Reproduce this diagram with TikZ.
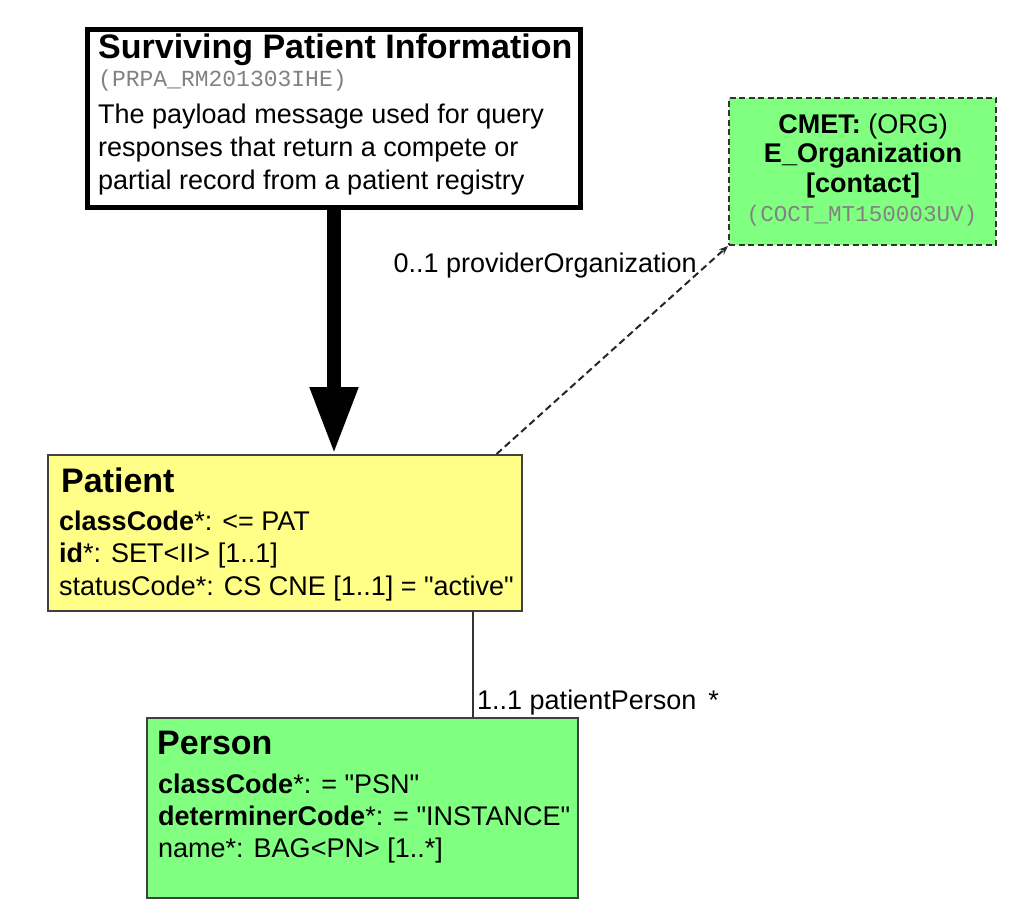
\documentclass[tikz,border=0pt]{standalone}
\usepackage{fontspec}
\setmainfont[Ligatures=TeXOff]{Liberation Sans}
\setmonofont{Liberation Mono}
\usetikzlibrary{arrows.meta}
\definecolor{entitygreen}{RGB}{128,255,128}
\definecolor{roleyellow}{RGB}{255,255,136}
\definecolor{codegray}{RGB}{130,130,130}
\begin{document}
\begin{tikzpicture}[x=1pt, y=-1pt,
    entry/.style={rectangle, draw=black, line width=5pt, fill=white, anchor=north west, inner sep=0pt},
    role/.style={rectangle, draw=black!75, line width=1.6pt, fill=roleyellow, anchor=north west, inner sep=0pt},
    entity/.style={rectangle, draw=black!75, line width=1.6pt, fill=entitygreen, anchor=north west, inner sep=0pt},
    cmet/.style={rectangle, draw=black!80, line width=2pt, dash pattern=on 6pt off 3.5pt, fill=entitygreen, anchor=north west, inner sep=0pt},
    clstitle/.style={anchor=base west, inner sep=0pt, font=\fontsize{34}{40}\selectfont\bfseries},
    idcode/.style={inner sep=0pt, font=\fontsize{23}{28}\selectfont\ttfamily, text=codegray},
    attrs/.style={anchor=north west, inner sep=0pt, align=left, font=\fontsize{27}{32.5}\selectfont},
    assoclabel/.style={inner sep=0pt, font=\fontsize{27}{32}\selectfont},
  ]
  \useasboundingbox (0,0) rectangle (1036,912);

  % Boxes
  \node[entry, minimum width=493, minimum height=177.5] (surv) at (85,27.5) {};
  \node[cmet, minimum width=267, minimum height=147] (orgcmet) at (728,97) {};
  \node[role, minimum width=474, minimum height=156] (patient) at (47,454) {};
  \node[entity, minimum width=431, minimum height=180] (person) at (146,717) {};

  % Texts
  \node[clstitle] (survname) at (98,59) {Surviving Patient Information};
  \node[idcode, anchor=base west] (survid) at (98,87) {(PRPA\_RM201303IHE)};
  \node[attrs, font=\fontsize{27}{33}\selectfont] (survdesc) at (98,103.7)
    {The payload message used for query\\responses that return a compete or\\partial record from a patient registry};

  \node[attrs, align=center, anchor=north, font=\fontsize{27}{29.5}\selectfont] (orgname) at (863,113.3)
    {\textbf{CMET:} (ORG)\\\textbf{E\_Organization}\\\textbf{[contact]}};
  \node[idcode, anchor=base, font=\fontsize{22.6}{27}\selectfont\ttfamily] (orgid) at (862,222) {(COCT\_MT150003UV)};

  \node[clstitle] (patname) at (61,492) {Patient};
  \node[attrs] (patattrs) at (59,510.7)
    {\textbf{classCode}*: <= PAT\\\textbf{id}*: SET<II> [1..1]\\statusCode*: CS CNE [1..1] = "active"};

  \node[clstitle] (psnname) at (157,754) {Person};
  \node[attrs, font=\fontsize{27}{32}\selectfont] (psnattrs) at (158,773.7)
    {\textbf{classCode}*: = "PSN"\\\textbf{determinerCode}*: = "INSTANCE"\\name*: BAG<PN> [1..*]};

  % Connectors
  \draw[line width=14pt, -{Triangle[length=67pt, width=45pt]}] (surv.south) -- (surv.south |- patient.north);

  \draw[line width=2pt, draw=black!85, dash pattern=on 7pt off 4pt, -{Stealth[length=9pt, width=7pt]}]
    ([xshift=-26pt]patient.north east) -- (orgcmet.south west);
  \node[assoclabel, anchor=base east] (provlbl) at ([xshift=-31pt, yshift=-26pt]orgcmet.south west) {0..1 providerOrganization};

  \coordinate (pplink) at (473,660);
  \draw[line width=1.5pt, draw=black!80] (patient.south -| pplink) -- (person.north -| pplink);
  \node[assoclabel, anchor=base west] (pplbl) at ([xshift=4pt, yshift=8pt]person.north -| pplink) {1..1 patientPerson\hspace{12pt}*};
\end{tikzpicture}
\end{document}
